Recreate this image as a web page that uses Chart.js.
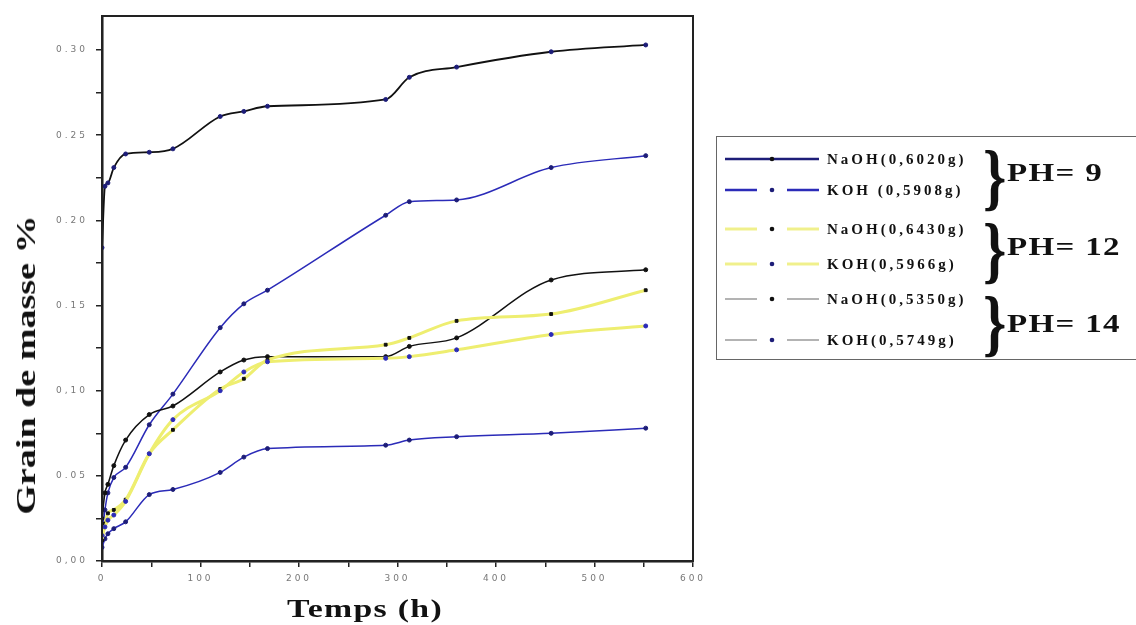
<!DOCTYPE html>
<html>
<head>
<meta charset="utf-8">
<script src="https://cdn.jsdelivr.net/npm/chart.js@4.4.1/dist/chart.umd.min.js"></script>
<style>
  body { margin: 0; background: #fff; }
  #wrap { position: relative; width: 1136px; height: 625px; overflow: hidden; }
  canvas { position: absolute; left: 0; top: 0; }
  .serif { font-family: "Liberation Serif", "DejaVu Serif", serif; font-weight: bold; color: #111; }
  #ytitle { position: absolute; left: 26px; top: 365px; font-size: 28px; white-space: nowrap;
            transform: translate(-50%, -50%) rotate(-90deg) scaleX(1.36); }
  #xtitle { position: absolute; left: 365px; top: 609px; font-size: 26px; white-space: nowrap;
            transform: translate(-50%, -50%) scaleX(1.3); letter-spacing: 1px; }
  #legend { position: absolute; left: 716px; top: 136px; width: 440px; height: 224px;
            border: 1.5px solid #666; box-sizing: border-box; }
  .row { position: absolute; left: 0; height: 20px; }
  .row svg { position: absolute; left: 8px; top: 5px; }
  .row span { position: absolute; left: 110px; top: 0; font-size: 15px; letter-spacing: 3px; white-space: nowrap; line-height: 20px; }
  .brace { position: absolute; left: 266px; font-size: 74px; line-height: 60px; transform: scaleX(0.8); transform-origin: left center; }
  .ph { position: absolute; left: 290px; font-size: 25px; line-height: 28px; white-space: nowrap; transform: scaleX(1.32); transform-origin: left center; letter-spacing: 1px; }
</style>
</head>
<body>
<div id="wrap">
  <canvas id="chart" width="1136" height="625"></canvas>
  <div id="ytitle" class="serif">Grain de masse %</div>
  <div id="xtitle" class="serif">Temps (h)</div>
  <div id="legend"></div>
</div>
<script>
// ================= DATA =================
const times = [0, 3, 6, 12, 24, 48, 72, 120, 144, 168, 288, 312, 360, 456, 552];

const naohPh9  = [0.184, 0.220, 0.222, 0.231, 0.239, 0.240, 0.242, 0.261, 0.264, 0.267, 0.271, 0.284, 0.290, 0.299, 0.303];
const kohPh9   = [0.015, 0.030, 0.040, 0.049, 0.055, 0.080, 0.098, 0.137, 0.151, 0.159, 0.203, 0.211, 0.212, 0.231, 0.238];
const naohPh12 = [0.012, 0.022, 0.028, 0.030, 0.036, 0.063, 0.077, 0.101, 0.107, 0.118, 0.127, 0.131, 0.141, 0.145, 0.159];
const kohPh12  = [0.015, 0.020, 0.024, 0.027, 0.035, 0.063, 0.083, 0.100, 0.111, 0.117, 0.119, 0.120, 0.124, 0.133, 0.138];
const naohPh14 = [0.025, 0.040, 0.045, 0.056, 0.071, 0.086, 0.091, 0.111, 0.118, 0.120, 0.120, 0.126, 0.131, 0.165, 0.171];
const kohPh14  = [0.008, 0.013, 0.016, 0.019, 0.023, 0.039, 0.042, 0.052, 0.061, 0.066, 0.068, 0.071, 0.073, 0.075, 0.078];

const seriesNames = ["NaOH(0,6020g)", "KOH (0,5908g)", "NaOH(0,6430g)", "KOH(0,5966g)", "NaOH(0,5350g)", "KOH(0,5749g)"];
const phLabels = ["PH= 9", "PH= 12", "PH= 14"];

const yTickValues = [0, 0.05, 0.10, 0.15, 0.20, 0.25, 0.30];
const yTickText   = ["0,00", "0.05", "0,10", "0.15", "0.20", "0.25", "0.30"];
const xTickValues = [0, 100, 200, 300, 400, 500, 600];
const xTickText   = ["0", "100", "200", "300", "400", "500", "600"];

// ================= STYLES =================
const NAVY = "#1d1d78";
const BLUE = "#2b2bb8";
const YELLOW = "#eeee70";
const BLACK = "#111";

function pts(vals) {
  return times.map((t, i) => ({ x: t, y: vals[i] }));
}

function ds(vals, line, mark, width, style) {
  return {
    data: pts(vals),
    borderColor: line,
    backgroundColor: mark,
    pointBackgroundColor: mark,
    pointBorderColor: mark,
    pointBorderWidth: 1,
    pointRadius: 2,
    pointStyle: style || "circle",
    borderWidth: width,
    cubicInterpolationMode: "monotone",
    fill: false
  };
}

// frame around plot area + spaced tick text
const frame = {
  id: "frame",
  beforeDraw(chart) {
    chart.ctx.letterSpacing = "3px";
  },
  afterDraw(chart) {
    const a = chart.chartArea, c = chart.ctx;
    c.save();
    c.strokeStyle = "#222";
    c.lineWidth = 2;
    c.strokeRect(a.left, a.top, a.right - a.left, a.bottom - a.top);
    c.restore();
    c.letterSpacing = "0px";
  }
};

const tickFont = { family: "DejaVu Sans", size: 9 };

new Chart(document.getElementById("chart"), {
  type: "line",
  data: {
    datasets: [
      ds(kohPh12, YELLOW, BLUE, 3),
      ds(naohPh12, YELLOW, BLACK, 3, "rect"),
      ds(kohPh14, BLUE, NAVY, 1.5),
      ds(naohPh14, BLACK, BLACK, 1.5),
      ds(kohPh9, BLUE, NAVY, 1.5),
      ds(naohPh9, BLACK, NAVY, 1.8)
    ]
  },
  options: {
    responsive: false,
    animation: false,
    devicePixelRatio: 1,
    layout: { padding: { left: 0, top: 16, right: 443, bottom: 0 } },
    plugins: { legend: { display: false }, tooltip: { enabled: false } },
    scales: {
      x: {
        type: "linear",
        min: 0, max: 600,
        afterFit: s => { s.height = 64; },
        ticks: {
          stepSize: 50,
          color: "#777",
          font: tickFont,
          maxRotation: 0,
          autoSkip: false,
          padding: 6,
          callback: v => {
            const i = xTickValues.indexOf(v);
            return i >= 0 ? xTickText[i] : "";
          }
        },
        grid: { drawOnChartArea: false, tickLength: 6, color: "#222", lineWidth: 1.5 },
        border: { color: "#111", width: 2.5 }
      },
      y: {
        min: 0, max: 0.32,
        afterFit: s => { s.width = 102; },
        afterBuildTicks: s => {
          const t = [];
          for (let k = 0; k <= 12; k++) t.push({ value: k * 0.025 });
          s.ticks = t;
        },
        ticks: {
          color: "#777",
          font: tickFont,
          padding: 8,
          callback: v => {
            const i = yTickValues.findIndex(y => Math.abs(y - v) < 1e-6);
            return i >= 0 ? yTickText[i] : "";
          }
        },
        grid: { drawOnChartArea: false, tickLength: 6, color: "#222", lineWidth: 1.5 },
        border: { color: "#111", width: 2.5 }
      }
    }
  },
  plugins: [frame]
});

// ================= LEGEND =================
const legendRows = [
  { y: 12, line: NAVY, solid: true, dot: BLACK, w: 2.5 },
  { y: 43, line: BLUE, dot: NAVY, w: 2.5 },
  { y: 82, line: "#f0f08c", dot: BLACK, w: 3 },
  { y: 117, line: "#f0f08c", dot: NAVY, w: 3 },
  { y: 152, line: "#8a8a8a", dot: BLACK, w: 1.3 },
  { y: 193, line: "#8a8a8a", dot: NAVY, w: 1.3 }
];
const braceTops = [10, 83, 156];
const phTops = [22, 96, 173];

const legend = document.getElementById("legend");
legendRows.forEach((r, i) => {
  const row = document.createElement("div");
  row.className = "row";
  row.style.top = r.y + "px";
  const segs = r.solid
    ? `<line x1="0" y1="5" x2="94" y2="5" stroke="${r.line}" stroke-width="${r.w}"/>`
    : `<line x1="0" y1="5" x2="32" y2="5" stroke="${r.line}" stroke-width="${r.w}"/>` +
      `<line x1="62" y1="5" x2="94" y2="5" stroke="${r.line}" stroke-width="${r.w}"/>`;
  row.innerHTML =
    `<svg width="96" height="10">${segs}<circle cx="47" cy="5" r="2.3" fill="${r.dot}"/></svg>` +
    `<span class="serif">${seriesNames[i]}</span>`;
  legend.appendChild(row);
});
phLabels.forEach((p, i) => {
  const b = document.createElement("div");
  b.className = "brace serif";
  b.style.top = braceTops[i] + "px";
  b.textContent = "}";
  legend.appendChild(b);
  const t = document.createElement("div");
  t.className = "ph serif";
  t.style.top = phTops[i] + "px";
  t.textContent = p;
  legend.appendChild(t);
});
</script>
</body>
</html>
